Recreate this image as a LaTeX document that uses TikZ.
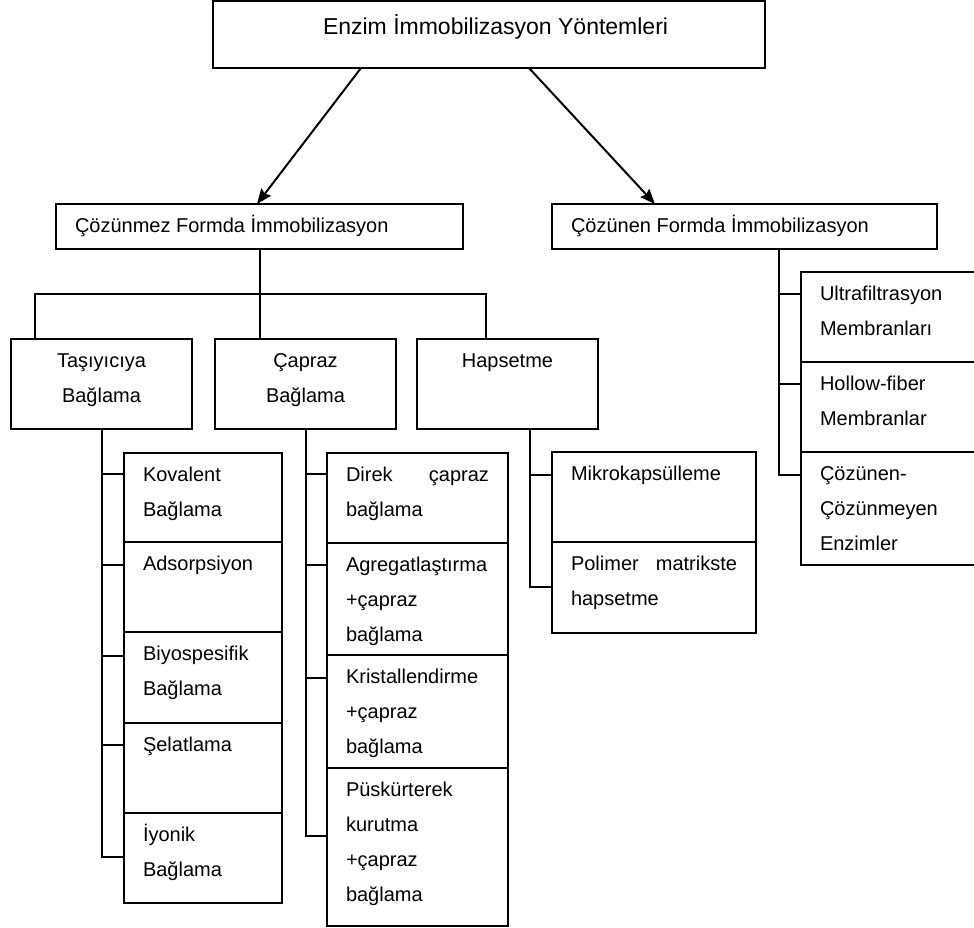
\documentclass[tikz,border=0pt]{standalone}
\usepackage{fontspec}
\setmainfont{Liberation Sans}
\usetikzlibrary{calc,arrows.meta}

\newcommand{\celltext}[4][28pt]{\parbox[c][#2][t]{#3}{\rule{0pt}{#1}#4}}
\tikzset{
  cell/.style={draw, line width=2pt, anchor=north west, inner xsep=19pt, inner ysep=0pt, outer sep=0pt, font=\fontsize{20}{35}\selectfont},
  link/.style={line width=2pt}
}

\begin{document}
\begin{tikzpicture}[x=1pt, y=-1pt, >={Stealth[length=15pt,width=12pt,inset=2pt]}]
        \useasboundingbox (0,0) rectangle (974,928);
        \node[cell] (top) at (213,1) {\celltext[34pt]{67pt}{514pt}{\fontsize{23}{35}\selectfont\hspace*{91pt}Enzim İmmobilizasyon Yöntemleri}};
        \node[cell] (coz) at (56,204) {\celltext{45pt}{369pt}{Çözünmez Formda İmmobilizasyon}};
        \node[cell] (cozn) at (552,204) {\celltext{45pt}{347pt}{Çözünen Formda İmmobilizasyon}};
        \draw[link,->] ([xshift=148pt]top.south west) -- ([xshift=201pt]coz.north west);
        \draw[link,->] ([xshift=316pt]top.south west) -- ([xshift=103pt]cozn.north west);
        \node[cell] (tas) at (11,339) {\celltext{90pt}{143pt}{\centering Taşıyıcıya\\Bağlama}};
        \node[cell] (cap) at (215,339) {\celltext{90pt}{143pt}{\centering Çapraz\\Bağlama}};
        \node[cell] (hap) at (417,339) {\celltext{90pt}{143pt}{\centering Hapsetme}};
        \draw[link] (coz.south) -- (coz.south |- cap.north);
        \draw[link] ([xshift=24pt]tas.north west) -- ++(0,-45) -| ([xshift=69pt]hap.north west);
        \node[cell] (kov) at (124,453) {\celltext{89pt}{120pt}{Kovalent\\Bağlama}};
        \node[cell] (ads) at (kov.south west) {\celltext{90pt}{120pt}{Adsorpsiyon}};
        \node[cell] (biy) at (ads.south west) {\celltext{91pt}{120pt}{Biyospesifik\\Bağlama}};
        \node[cell] (sel) at (biy.south west) {\celltext{90pt}{120pt}{Şelatlama}};
        \node[cell] (iyo) at (sel.south west) {\celltext{90pt}{120pt}{İyonik\\Bağlama}};
        \node[cell] (dir) at (327,453) {\celltext{90pt}{143pt}{Direk\hfill çapraz\\bağlama}};
        \node[cell] (agr) at (dir.south west) {\celltext{112pt}{143pt}{Agregatlaştırma\\+çapraz\\bağlama}};
        \node[cell] (kri) at (agr.south west) {\celltext{113pt}{143pt}{Kristallendirme\\+çapraz\\bağlama}};
        \node[cell] (pus) at (kri.south west) {\celltext{158pt}{143pt}{Püskürterek\\kurutma\\+çapraz\\bağlama}};
        \node[cell] (mik) at (552,452) {\celltext{90pt}{166pt}{Mikrokapsülleme}};
        \node[cell] (pol) at (mik.south west) {\celltext{91pt}{166pt}{Polimer\hfill matrikste\\hapsetme}};
        \node[cell] (ult) at (801,272) {\celltext{90pt}{162pt}{Ultrafiltrasyon\\Membranları}};
        \node[cell] (hol) at (ult.south west) {\celltext{90pt}{162pt}{Hollow-fiber\\Membranlar}};
        \node[cell] (ccz) at (hol.south west) {\celltext{113pt}{162pt}{Çözünen-\\Çözünmeyen\\Enzimler}};
        \foreach \n/\d in {kov/21,ads/23,biy/24,sel/22,iyo/44}
          \draw[link] (tas.south) |- ($(\n.north west)+(0,\d)$);
        \foreach \n/\d in {dir/21,agr/22,kri/23,pus/68}
          \draw[link] (cap.south) |- ($(\n.north west)+(0,\d)$);
        \foreach \n/\d in {mik/23,pol/45}
          \draw[link] ([xshift=22pt]hap.south) |- ($(\n.north west)+(0,\d)$);
        \foreach \n/\d in {ult/22,hol/22,ccz/23}
          \draw[link] ([xshift=34pt]cozn.south) |- ($(\n.north west)+(0,\d)$);
\end{tikzpicture}
\end{document}
